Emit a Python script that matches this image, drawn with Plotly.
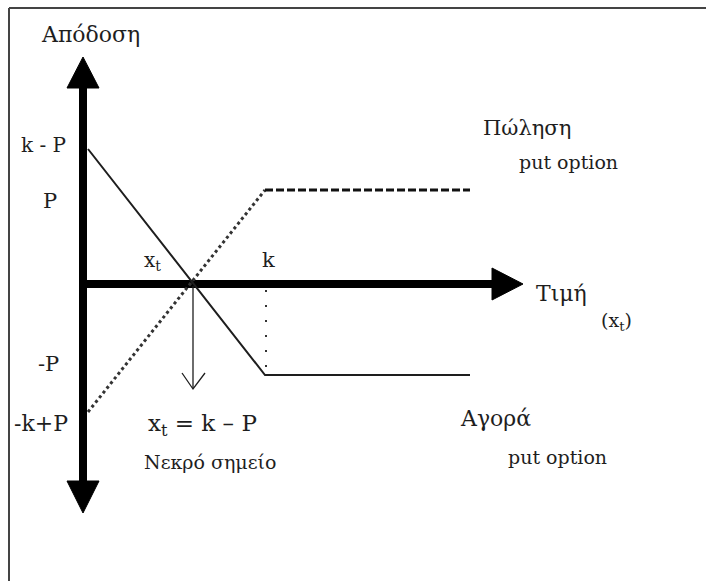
import plotly.graph_objects as go

# ---- data (diagram units: origin at axes crossing, 1 unit = 1 px) ----
buy_put_x = [5, 182, 387]
buy_put_y = [135, -91, -91]

sell_put_slope_x = [5, 182]
sell_put_slope_y = [-128, 94]
sell_put_flat_x = [182, 387]
sell_put_flat_y = [94, 94]

strike_guide_x = [183, 183]
strike_guide_y = [-6, -88]

breakeven_x = [110, 110]
breakeven_y = [-2, -104]
breakeven_head_x = [99, 110, 122]
breakeven_head_y = [-89, -105, -89]

yaxis_x = [0, 0]
yaxis_y = [196, -197]
yhead_top_x = [-16, 16, 0]
yhead_top_y = [196, 196, 227]
yhead_bot_x = [-16, 16, 0]
yhead_bot_y = [-197, -197, -229]

xaxis_x = [0, 409]
xaxis_y = [0, 0]
xhead_x = [409, 409, 440]
xhead_y = [16, -16, 0]

labels = [
    ("Απόδοση", 7, 250, 22),
    ("k - P", -40, 139, 20),
    ("P", -33, 83, 21),
    ("x<sub>t</sub>", 69, 23, 20),
    ("k", 185, 24, 21),
    ("Τιμή", 478, -9, 22),
    ("(x<sub>t</sub>)", 533, -37, 19),
    ("-P", -35, -80, 21),
    ("-k+P", -42, -139, 22),
    ("x<sub>t</sub> = k – P", 119, -141, 23),
    ("Νεκρό σημείο", 127, -178, 19),
    ("Πώληση", 444, 156, 21),
    ("put option", 485, 122, 19),
    ("Αγορά", 412, -134, 22),
    ("put option", 474, -173, 19),
]

FONT = "DejaVu Serif"
INK = "#1e1e1e"

fig = go.Figure()

def line(x, y, width, color=INK, dash="solid"):
    fig.add_trace(go.Scatter(x=x, y=y, mode="lines",
                             line=dict(color=color, width=width, dash=dash),
                             hoverinfo="skip", showlegend=False))

def tri(x, y):
    fig.add_trace(go.Scatter(x=x + [x[0]], y=y + [y[0]], mode="lines",
                             fill="toself", fillcolor="black",
                             line=dict(color="black", width=1),
                             hoverinfo="skip", showlegend=False))

# axes
line(yaxis_x, yaxis_y, 8, "black")
tri(yhead_top_x, yhead_top_y)
tri(yhead_bot_x, yhead_bot_y)
line(xaxis_x, xaxis_y, 8, "black")
tri(xhead_x, xhead_y)

# payoff lines
line(buy_put_x, buy_put_y, 2, INK)
line(sell_put_slope_x, sell_put_slope_y, 3, "#333", "3px,3px")
line(sell_put_flat_x, sell_put_flat_y, 3, "#111", "8px,3px")
line(strike_guide_x, strike_guide_y, 2, "#333", "2px,13px")
line(breakeven_x, breakeven_y, 1.3, INK)
line(breakeven_head_x, breakeven_head_y, 1.3, INK)

for txt, x, y, size in labels:
    fig.add_annotation(x=x, y=y, text=txt, showarrow=False,
                       font=dict(family=FONT, size=size, color=INK),
                       xanchor="center", yanchor="middle")

# frame (top and left borders visible)
fig.add_shape(type="line", x0=-74, y0=276, x1=623, y1=276,
              line=dict(color="#444", width=2))
fig.add_shape(type="line", x0=-74, y0=276, x1=-74, y1=-300,
              line=dict(color="#444", width=2))

fig.update_layout(
    width=706, height=581,
    margin=dict(l=0, r=0, t=0, b=0),
    paper_bgcolor="white", plot_bgcolor="white",
    xaxis=dict(range=[-83, 623], visible=False, fixedrange=True),
    yaxis=dict(range=[-297, 284], visible=False, fixedrange=True),
)

fig.write_html("out.html", config={"displayModeBar": False},
               post_script="document.body.style.margin='0';document.body.style.overflow='hidden';")
